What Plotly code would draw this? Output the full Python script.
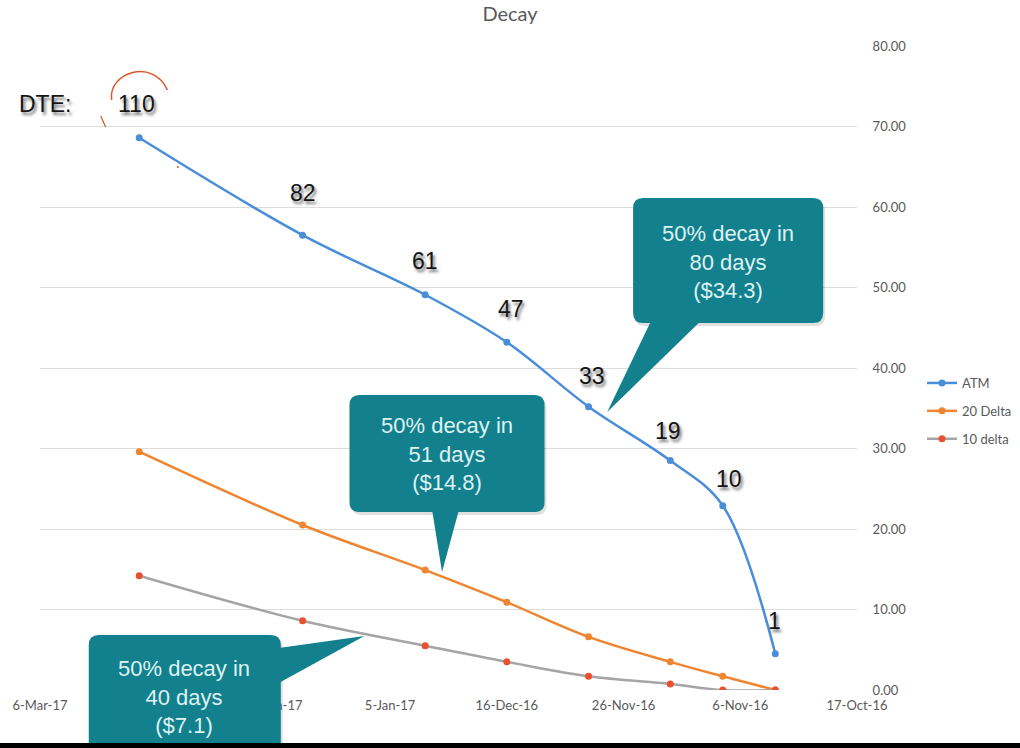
import plotly.graph_objects as go

# ---------------- data ----------------
dte = [110, 82, 61, 47, 33, 19, 10, 1]
dates = ["2017-02-17", "2017-01-20", "2016-12-30", "2016-12-16",
         "2016-12-02", "2016-11-18", "2016-11-09", "2016-10-31"]
atm = [68.6, 56.5, 49.1, 43.2, 35.2, 28.5, 22.9, 4.5]
delta20 = [29.6, 20.5, 14.9, 10.9, 6.6, 3.5, 1.7, 0.0]
delta10 = [14.2, 8.6, 5.5, 3.5, 1.7, 0.75, 0.0, 0.0]

tick_dates = ["2017-03-06", "2017-02-14", "2017-01-25", "2017-01-05",
              "2016-12-16", "2016-11-26", "2016-11-06", "2016-10-17"]
tick_labels = ["6-Mar-17", "14-Feb-17", "25-Jan-17", "5-Jan-17",
               "16-Dec-16", "26-Nov-16", "6-Nov-16", "17-Oct-16"]
y_ticks = [0, 10, 20, 30, 40, 50, 60, 70, 80]

callout_texts = ["50% decay in<br>80 days<br>($34.3)",
                 "50% decay in<br>51 days<br>($14.8)",
                 "50% decay in<br>40 days<br>($7.1)"]

# ---------------- layout geometry (screen pixels) ----------------
FW, FH = 1020, 748
PLOT_X0, PLOT_X1, PLOT_Y0, PLOT_Y1 = 36, 857, 46, 690
L, T = PLOT_X0, PLOT_Y0
R, B = FW - PLOT_X1, FH - PLOT_Y1
PW, PH = PLOT_X1 - PLOT_X0, PLOT_Y1 - PLOT_Y0


def px(x):
    return (x - PLOT_X0) / PW


def py(y):
    return 1 - (y - PLOT_Y0) / PH


def rrect(x0, y0, x1, y1, r):
    return (f"M {px(x0 + r)},{py(y0)} L {px(x1 - r)},{py(y0)} "
            f"Q {px(x1)},{py(y0)} {px(x1)},{py(y0 + r)} "
            f"L {px(x1)},{py(y1 - r)} Q {px(x1)},{py(y1)} {px(x1 - r)},{py(y1)} "
            f"L {px(x0 + r)},{py(y1)} Q {px(x0)},{py(y1)} {px(x0)},{py(y1 - r)} "
            f"L {px(x0)},{py(y0 + r)} Q {px(x0)},{py(y0)} {px(x0 + r)},{py(y0)} Z")


def tri(pts):
    return "M " + " L ".join(f"{px(a)},{py(b)}" for a, b in pts) + " Z"


BLUE = "#4A8DD9"
ORANGE = "#EF8530"
GRAY = "#A5A5A5"
RED = "#E8502F"
TEAL = "#13808E"
TXT = "#595959"

fig = go.Figure()
fig.add_trace(go.Scatter(x=dates, y=atm, name="ATM", mode="lines+markers",
                         line=dict(color=BLUE, width=2.5, shape="spline"),
                         marker=dict(color=BLUE, size=7), legendgroup="a"))
fig.add_trace(go.Scatter(x=dates, y=delta20, name="20 Delta", mode="lines+markers",
                         line=dict(color=ORANGE, width=2.5, shape="spline"),
                         marker=dict(color=ORANGE, size=7), legendgroup="b"))
fig.add_trace(go.Scatter(x=dates, y=delta10, name="10 delta", mode="lines+markers",
                         line=dict(color=GRAY, width=2.5, shape="spline"),
                         marker=dict(color=RED, size=7), legendgroup="c"))

shapes = []
boxes = [(632, 198, 823, 323), (347, 395, 543, 512), (85, 635, 278, 770)]
tails = [[(650, 321), (700, 321), (606, 412)],
         [(430, 510), (457, 510), (440, 572)],
         [(276, 648), (276, 683), (362, 636)]]
for (x0, y0, x1, y1), tl in zip(boxes, tails):
    shapes.append(dict(type="path", xref="paper", yref="paper",
                       path=rrect(x0 + 2, y0 + 3, x1 + 2, y1 + 3, 10),
                       fillcolor="rgba(0,0,0,0.12)", line=dict(width=0), layer="above"))
    shapes.append(dict(type="path", xref="paper", yref="paper", path=tri(tl),
                       fillcolor=TEAL, line=dict(width=0), layer="above"))
    shapes.append(dict(type="path", xref="paper", yref="paper",
                       path=rrect(x0, y0, x1, y1, 10),
                       fillcolor=TEAL, line=dict(width=0), layer="above"))

# hand-drawn red arc around 110
shapes.append(dict(type="path", xref="paper", yref="paper",
                   path=(f"M {px(108)},{py(100)} C {px(104)},{py(72)} "
                         f"{px(150)},{py(58)} {px(164)},{py(90)}"),
                   line=dict(color="#D8572A", width=1.5), layer="above"))
shapes.append(dict(type="path", xref="paper", yref="paper",
                   path=f"M {px(97)},{py(116)} L {px(102)},{py(127)}",
                   line=dict(color="#D8572A", width=1.2), layer="above"))
shapes.append(dict(type="path", xref="paper", yref="paper",
                   path=f"M {px(174)},{py(166)} L {px(175)},{py(168)}",
                   line=dict(color="#D8572A", width=1.5), layer="above"))
# black strip at the bottom of the frame
shapes.append(dict(type="rect", xref="paper", yref="paper",
                   x0=px(-5), x1=px(FW + 5), y0=py(743), y1=py(FH + 5),
                   fillcolor="#000000", line=dict(width=0), layer="above"))

annotations = []
text_centers = [(727, 262), (445, 454), (181, 697)]
for (cx, cy), t in zip(text_centers, callout_texts):
    annotations.append(dict(xref="paper", yref="paper", x=px(cx), y=py(cy),
                            xanchor="center", yanchor="middle",
                            text=t, showarrow=False, align="center",
                            font=dict(family="Liberation Sans, Arial", size=22,
                                      color="#DDF2F2")))

label_shifts = [(-3, 34), (0, 42), (0, 34), (4, 33), (3, 31), (-2, 30), (6, 27), (-1, 33)]
shadow = "2px 3px 3px rgba(0,0,0,0.55)"
for d, v, n, (sx, sy) in zip(dates, atm, dte, label_shifts):
    annotations.append(dict(x=d, y=v, xref="x", yref="y", text=str(n), showarrow=False,
                            xshift=sx, yshift=sy, xanchor="center", yanchor="middle",
                            font=dict(family="Liberation Sans, Arial", size=23,
                                      color="#151515", shadow=shadow)))
annotations.append(dict(x=dates[0], y=atm[0], xref="x", yref="y", text="DTE:",
                        showarrow=False, xshift=-94, yshift=34,
                        xanchor="center", yanchor="middle",
                        font=dict(family="Liberation Sans, Arial", size=23,
                                  color="#151515", shadow=shadow)))

fig.update_layout(
    width=FW, height=FH,
    margin=dict(l=L, r=R, t=T, b=B, pad=0),
    paper_bgcolor="white", plot_bgcolor="white",
    title=dict(text="Decay", x=510 / FW, xref="container", xanchor="center",
               y=1 - 14 / FH, yref="container", yanchor="middle",
               font=dict(family="Lato, Liberation Sans", size=20, color=TXT)),
    xaxis=dict(type="date", range=[tick_dates[0], tick_dates[-1]],
               tickvals=tick_dates, ticktext=tick_labels,
               showgrid=False, zeroline=False, showline=False,
               ticks="outside", ticklen=3, tickcolor="rgba(0,0,0,0)",
               tickfont=dict(family="Lato, Liberation Sans", size=13, color=TXT)),
    yaxis=dict(side="right", range=[0, 80], tickvals=y_ticks, tickformat=".2f",
               showgrid=True, gridcolor="#DCDCDC", gridwidth=1,
               zeroline=False, showline=False,
               ticks="outside", ticklen=12, tickcolor="rgba(0,0,0,0)",
               tickfont=dict(family="Lato, Liberation Sans", size=13, color=TXT)),
    legend=dict(x=922 / FW, y=1 - 368 / FH, xanchor="left", yanchor="top",
                xref="container", yref="container", tracegroupgap=8,
                font=dict(family="Lato, Liberation Sans", size=13, color=TXT),
                bgcolor="rgba(0,0,0,0)", itemwidth=30),
    shapes=shapes,
    annotations=annotations,
    showlegend=True,
)

fig.write_html("out.html",
               config={"displayModeBar": False},
               post_script="document.body.style.margin='0';document.body.style.overflow='hidden';")
